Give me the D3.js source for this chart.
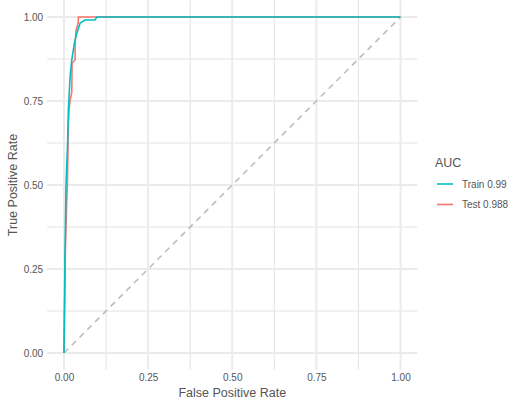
<!DOCTYPE html>
<html>
<head>
<meta charset="utf-8">
<script src="https://cdn.jsdelivr.net/npm/d3@7"></script>
<style>
  html, body { margin: 0; padding: 0; background: #ffffff; }
  svg text { font-family: "Liberation Sans", Arial, Helvetica, sans-serif; }
</style>
</head>
<body>
<svg id="chart" width="513" height="404"></svg>
<script>
// ROC curve points (false positive rate, true positive rate)
const trainFpr = [0, 0.003, 0.006, 0.011, 0.013, 0.018, 0.023, 0.031, 0.038, 0.048, 0.062, 0.092, 0.098, 1];
const trainTpr = [0, 0.30, 0.50, 0.634, 0.723, 0.821, 0.872, 0.923, 0.952, 0.982, 0.991, 0.991, 1, 1];

const testFpr = [0, 0.004, 0.008, 0.010, 0.013, 0.015, 0.018, 0.023, 0.024, 0.033, 0.033, 0.036, 0.042, 0.043, 1];
const testTpr = [0, 0.30, 0.45, 0.50, 0.68, 0.723, 0.753, 0.774, 0.863, 0.872, 0.923, 0.961, 0.982, 1, 1];

const seriesNames = ["Train 0.99", "Test 0.988"];
const seriesColors = ["#00BFC4", "#F8766D"];
const legendTitle = "AUC";

const majorTicks = [0, 0.25, 0.5, 0.75, 1];
const minorTicks = [0.125, 0.375, 0.625, 0.875];
const tickLabels = ["0.00", "0.25", "0.50", "0.75", "1.00"];

const xTitle = "False Positive Rate";
const yTitle = "True Positive Rate";

const svg = d3.select("#chart");

// plot panel with a 5% expansion on each side of [0, 1]
const x = d3.scaleLinear().domain([0, 1]).range([64, 400.5]);
const y = d3.scaleLinear().domain([0, 1]).range([353, 17]);
const xLo = x(-0.05), xHi = x(1.05);
const yLo = y(-0.05), yHi = y(1.05);

const grid = svg.append("g");
// minor grid
grid.selectAll("line.vminor").data(minorTicks).join("line")
  .attr("x1", d => x(d)).attr("x2", d => x(d))
  .attr("y1", yHi).attr("y2", yLo)
  .attr("stroke", "#e3e3e3").attr("stroke-width", 1);
grid.selectAll("line.hminor").data(minorTicks).join("line")
  .attr("y1", d => y(d)).attr("y2", d => y(d))
  .attr("x1", xLo).attr("x2", xHi)
  .attr("stroke", "#e3e3e3").attr("stroke-width", 1);
// major grid
grid.selectAll("line.vmajor").data(majorTicks).join("line")
  .attr("x1", d => x(d)).attr("x2", d => x(d))
  .attr("y1", yHi).attr("y2", yLo)
  .attr("stroke", "#ebebeb").attr("stroke-width", 2);
grid.selectAll("line.hmajor").data(majorTicks).join("line")
  .attr("y1", d => y(d)).attr("y2", d => y(d))
  .attr("x1", xLo).attr("x2", xHi)
  .attr("stroke", "#ebebeb").attr("stroke-width", 2);

// axes (text only, no domain line or tick marks)
const xAxis = d3.axisBottom(x).tickValues(majorTicks)
  .tickFormat((d, i) => tickLabels[i]).tickSize(0).tickPadding(0);
const gx = svg.append("g").attr("transform", `translate(0,${yLo + 4})`).call(xAxis);
gx.select(".domain").remove();
gx.selectAll("text").attr("font-size", 10).attr("fill", "#555").attr("dy", "0.71em")
  .style("font-family", "Liberation Sans, Arial, sans-serif");

const yAxis = d3.axisLeft(y).tickValues(majorTicks)
  .tickFormat((d, i) => tickLabels[i]).tickSize(0).tickPadding(0);
const gy = svg.append("g").attr("transform", `translate(${xLo - 4},0)`).call(yAxis);
gy.select(".domain").remove();
gy.selectAll("text").attr("font-size", 10).attr("fill", "#555")
  .style("font-family", "Liberation Sans, Arial, sans-serif");

// axis titles
svg.append("text")
  .attr("x", (xLo + xHi) / 2).attr("y", 397)
  .attr("text-anchor", "middle").attr("font-size", 12.5).attr("fill", "#555")
  .text(xTitle);
svg.append("text")
  .attr("transform", `translate(17,${(yLo + yHi) / 2}) rotate(-90)`)
  .attr("text-anchor", "middle").attr("font-size", 12.5).attr("fill", "#555")
  .text(yTitle);

// chance diagonal
svg.append("line")
  .attr("x1", x(0)).attr("y1", y(0)).attr("x2", x(1)).attr("y2", y(1))
  .attr("stroke", "#bdbdbd").attr("stroke-width", 1.6)
  .attr("stroke-dasharray", "6,5");

// ROC curves: test drawn first, train on top
const line = d3.line().x(d => x(d[0])).y(d => y(d[1]));
const testPts = d3.zip(testFpr, testTpr);
const trainPts = d3.zip(trainFpr, trainTpr);
svg.append("path").datum(testPts).attr("d", line)
  .attr("fill", "none").attr("stroke", seriesColors[1]).attr("stroke-width", 1.6);
svg.append("path").datum(trainPts).attr("d", line)
  .attr("fill", "none").attr("stroke", seriesColors[0]).attr("stroke-width", 1.6);

// legend
const lg = svg.append("g").attr("transform", "translate(435,0)");
lg.append("text").attr("x", 0).attr("y", 167)
  .attr("font-size", 12.5).attr("fill", "#555").text(legendTitle);
const items = lg.selectAll("g.item").data(seriesNames).join("g")
  .attr("transform", (d, i) => `translate(0,${184 + i * 20.5})`);
items.append("line").attr("x1", 2).attr("x2", 18).attr("y1", 0).attr("y2", 0)
  .attr("stroke", (d, i) => seriesColors[i]).attr("stroke-width", 1.6);
items.append("text").attr("x", 27).attr("y", 0).attr("dy", "0.35em")
  .attr("font-size", 10).attr("fill", "#555").text(d => d);
</script>
</body>
</html>
